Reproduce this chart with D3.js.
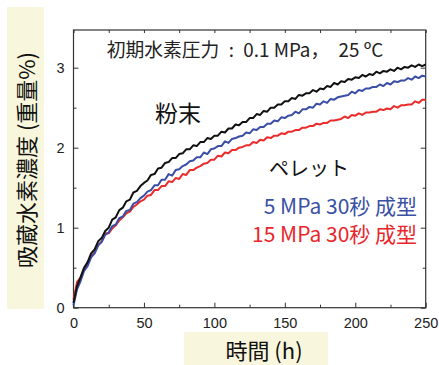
<!DOCTYPE html>
<html>
<head>
<meta charset="utf-8">
<script src="https://cdn.jsdelivr.net/npm/d3@7"></script>
<style>
  body { margin: 0; background: #fff; }
  #chart { width: 439px; height: 365px; }
</style>
</head>
<body>
<div id="chart"></div>
<script>
// time (h)
const hours = [
  0, 2.5, 5, 7.5, 10, 12.5, 15, 17.5, 20, 22.5,
  25, 27.5, 30, 32.5, 35, 37.5, 40, 42.5, 45, 47.5,
  50, 52.5, 55, 57.5, 60, 62.5, 65, 67.5, 70, 72.5,
  75, 77.5, 80, 82.5, 85, 87.5, 90, 92.5, 95, 97.5,
  100, 102.5, 105, 107.5, 110, 112.5, 115, 117.5, 120, 122.5,
  125, 127.5, 130, 132.5, 135, 137.5, 140, 142.5, 145, 147.5,
  150, 152.5, 155, 157.5, 160, 162.5, 165, 167.5, 170, 172.5,
  175, 177.5, 180, 182.5, 185, 187.5, 190, 192.5, 195, 197.5,
  200, 202.5, 205, 207.5, 210, 212.5, 215, 217.5, 220, 222.5,
  225, 227.5, 230, 232.5, 235, 237.5, 240, 242.5, 245, 247.5, 250
];

// 粉末
const powder = [
  0.06, 0.27, 0.38, 0.50, 0.57, 0.68, 0.73, 0.83, 0.87, 0.96,
  1.00, 1.10, 1.13, 1.22, 1.25, 1.33, 1.35, 1.44, 1.46, 1.52,
  1.56, 1.59, 1.66, 1.67, 1.74, 1.75, 1.81, 1.82, 1.87, 1.87,
  1.92, 1.93, 1.98, 1.98, 2.03, 2.02, 2.07, 2.07, 2.12, 2.11,
  2.15, 2.15, 2.20, 2.19, 2.24, 2.24, 2.29, 2.28, 2.32, 2.32,
  2.37, 2.37, 2.42, 2.41, 2.46, 2.45, 2.50, 2.50, 2.54, 2.54,
  2.58, 2.58, 2.62, 2.61, 2.66, 2.65, 2.68, 2.68, 2.72, 2.70,
  2.74, 2.73, 2.77, 2.76, 2.81, 2.79, 2.83, 2.82, 2.86, 2.85,
  2.88, 2.87, 2.91, 2.89, 2.92, 2.91, 2.95, 2.93, 2.96, 2.95,
  2.98, 2.96, 3.00, 2.98, 3.01, 3.00, 3.03, 3.01, 3.04, 3.02, 3.04
];

// ペレット 5 MPa 30秒 成型
const pellet5 = [
  0.03, 0.23, 0.33, 0.46, 0.52, 0.63, 0.68, 0.78, 0.82, 0.91,
  0.94, 1.02, 1.04, 1.12, 1.14, 1.21, 1.22, 1.30, 1.32, 1.37,
  1.40, 1.45, 1.47, 1.53, 1.53, 1.60, 1.60, 1.67, 1.65, 1.72,
  1.73, 1.77, 1.79, 1.83, 1.84, 1.88, 1.88, 1.94, 1.92, 1.98,
  1.99, 2.02, 2.02, 2.08, 2.06, 2.11, 2.12, 2.14, 2.15, 2.19,
  2.18, 2.23, 2.22, 2.26, 2.26, 2.30, 2.30, 2.34, 2.33, 2.38,
  2.37, 2.40, 2.41, 2.45, 2.43, 2.48, 2.48, 2.51, 2.50, 2.55,
  2.54, 2.58, 2.56, 2.61, 2.60, 2.63, 2.64, 2.65, 2.66, 2.70,
  2.68, 2.72, 2.71, 2.74, 2.74, 2.76, 2.76, 2.79, 2.77, 2.81,
  2.79, 2.83, 2.82, 2.84, 2.84, 2.87, 2.85, 2.89, 2.87, 2.90, 2.89
];

// ペレット 15 MPa 30秒 成型
const pellet15 = [
  0.10, 0.32, 0.38, 0.48, 0.54, 0.64, 0.69, 0.78, 0.83, 0.93,
  0.93, 0.99, 1.03, 1.09, 1.13, 1.18, 1.20, 1.26, 1.29, 1.33,
  1.35, 1.40, 1.41, 1.47, 1.47, 1.52, 1.52, 1.58, 1.57, 1.62,
  1.61, 1.67, 1.66, 1.72, 1.72, 1.75, 1.77, 1.80, 1.81, 1.85,
  1.85, 1.90, 1.89, 1.94, 1.93, 1.97, 1.97, 2.00, 2.01, 2.03,
  2.03, 2.07, 2.06, 2.10, 2.09, 2.13, 2.12, 2.15, 2.15, 2.18,
  2.17, 2.20, 2.20, 2.22, 2.22, 2.25, 2.25, 2.27, 2.27, 2.30,
  2.29, 2.31, 2.31, 2.34, 2.34, 2.35, 2.36, 2.39, 2.37, 2.41,
  2.40, 2.43, 2.41, 2.44, 2.44, 2.45, 2.45, 2.48, 2.47, 2.49,
  2.48, 2.52, 2.50, 2.53, 2.53, 2.54, 2.54, 2.58, 2.56, 2.60, 2.60
];

const xTicks = [0, 50, 100, 150, 200, 250];
const xMinorTicks = [25, 75, 125, 175, 225];
const yTicks = [0, 1, 2, 3];
const yMinorTicks = [0.5, 1.5, 2.5];

const W = 439, H = 365;
const margin = { top: 30, right: 13.3, bottom: 57.3, left: 73.5 };
const width = W - margin.left - margin.right;
const height = H - margin.top - margin.bottom;
const cjk = "'Noto Sans CJK JP', 'Noto Sans', sans-serif";

const root = d3.select("#chart").append("svg").attr("width", W).attr("height", H);

// yellow label boxes
root.append("rect").attr("x", 7).attr("y", 7).attr("width", 37).attr("height", 302).attr("fill", "#f8f6dc");
root.append("rect").attr("x", 184).attr("y", 332).attr("width", 144).attr("height", 33).attr("fill", "#f8f6dc");

const svg = root.append("g").attr("transform", `translate(${margin.left},${margin.top})`);

const x = d3.scaleLinear().domain([0, 250]).range([0, width]);
const y = d3.scaleLinear().domain([0, height / 80]).range([height, 0]);

// axes (ticks inward)
function styleAxis(g) {
  g.select(".domain").remove();
  g.selectAll("line").attr("stroke", "#333").attr("stroke-width", 1);
  g.selectAll("text").attr("fill", "#222").style("font-family", "'Liberation Sans', Arial, sans-serif").style("font-size", "14.5px");
}

svg.append("g").attr("transform", `translate(0,${height})`)
  .call(d3.axisBottom(x).tickValues(xTicks).tickSize(-5).tickPadding(10).tickFormat(d3.format("d"))).call(styleAxis);
svg.append("g").attr("transform", `translate(0,${height})`)
  .call(d3.axisBottom(x).tickValues(xMinorTicks).tickSize(-3).tickFormat("")).call(styleAxis);
svg.append("g")
  .call(d3.axisTop(x).tickValues(xTicks.concat(xMinorTicks)).tickSize(-3).tickFormat("")).call(styleAxis);

svg.append("g")
  .call(d3.axisLeft(y).tickValues(yTicks).tickSize(-5).tickPadding(9).tickFormat(d3.format("d"))).call(styleAxis);
svg.append("g")
  .call(d3.axisLeft(y).tickValues(yMinorTicks).tickSize(-3).tickFormat("")).call(styleAxis);
svg.append("g").attr("transform", `translate(${width},0)`)
  .call(d3.axisRight(y).tickValues(yTicks).tickSize(-5).tickFormat("")).call(styleAxis);
svg.append("g").attr("transform", `translate(${width},0)`)
  .call(d3.axisRight(y).tickValues(yMinorTicks).tickSize(-3).tickFormat("")).call(styleAxis);

// frame
svg.append("rect").attr("width", width).attr("height", height)
  .attr("fill", "none").attr("stroke", "#333").attr("stroke-width", 1.2);

// curves
const series = [
  { values: pellet15, color: "#ec2b2b" },
  { values: pellet5, color: "#3a4ea6" },
  { values: powder, color: "#111111" }
];
const line = d3.line().x((d, i) => x(hours[i])).y((d) => y(d));
series.forEach((s) => {
  svg.append("path").datum(s.values)
    .attr("fill", "none").attr("stroke", s.color).attr("stroke-width", 2)
    .attr("stroke-linejoin", "round").attr("d", line);
});

// annotations
root.append("text").attr("x", 245).attr("y", 57).attr("text-anchor", "middle")
  .style("font-family", cjk).style("font-size", "18.8px").style("white-space", "pre").attr("fill", "#222")
  .text("初期水素圧力\u2002:\u20020.1 MPa，\u200225 ºC");
root.append("text").attr("x", 178).attr("y", 122).attr("text-anchor", "middle")
  .style("font-family", cjk).style("font-size", "23px").attr("fill", "#111")
  .text("粉末");
root.append("text").attr("x", 309).attr("y", 176).attr("text-anchor", "middle")
  .style("font-family", cjk).style("font-size", "20px").attr("fill", "#111")
  .text("ペレット");
root.append("text").attr("x", 417).attr("y", 214).attr("text-anchor", "end")
  .style("font-family", cjk).style("font-size", "21px").attr("fill", "#3a50a4")
  .text("5 MPa 30秒 成型");
root.append("text").attr("x", 417).attr("y", 242).attr("text-anchor", "end")
  .style("font-family", cjk).style("font-size", "21px").attr("fill", "#e8262b")
  .text("15 MPa 30秒 成型");

// axis labels
root.append("text").attr("x", 264).attr("y", 359).attr("text-anchor", "middle")
  .style("font-family", cjk).style("font-size", "22px").attr("fill", "#111")
  .text("時間 (h)");
root.append("text").attr("transform", "translate(35,160) rotate(-90)").attr("text-anchor", "middle")
  .style("font-family", cjk).style("font-size", "22px").attr("fill", "#111")
  .text("吸蔵水素濃度 (重量%)");
</script>
</body>
</html>
